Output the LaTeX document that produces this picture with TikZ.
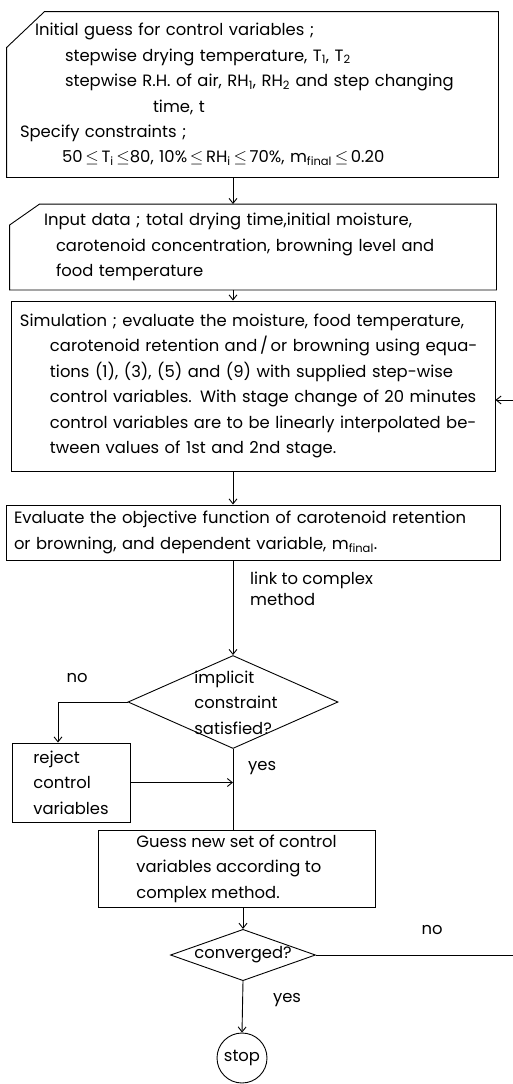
\documentclass[tikz,border=0pt]{standalone}
\usepackage{fontspec}
\setmainfont{Poppins}
\usetikzlibrary{arrows.meta,positioning,calc,shapes.geometric}
\tikzset{
  blk/.style={draw,rectangle,line width=0.9pt,align=left,inner ysep=0pt},
  inblk/.style={blk,draw=none},
  decide/.style={diamond,draw,line width=0.9pt,inner sep=0pt},
  stopnode/.style={circle,draw,line width=0.9pt,minimum size=50pt,inner sep=0pt},
  arr/.style={-{Straight Barb[length=5pt,width=8pt]},line width=0.9pt},
  ln/.style={line width=0.9pt},
  lbl/.style={align=left,inner sep=0pt}
}

\begin{document}
\begin{tikzpicture}[x=1pt,y=-1pt,font=\fontsize{16.4}{25.4}\selectfont]
  \useasboundingbox (0,0) rectangle (513,1084);
  \coordinate (axis) at (233,0);

  \node[inblk, minimum width=491pt, minimum height=165pt, text width=465pt, inner xsep=13pt] (init) at (252.5,94.5)
    {\hspace*{15pt}Initial guess for control variables ;\\
     \hspace*{45pt}stepwise drying temperature, T\textsubscript{1}, T\textsubscript{2}\\
     \hspace*{45pt}stepwise R.H. of air, RH\textsubscript{1}, RH\textsubscript{2} and step changing\\
     \hspace*{133pt}time, t\\
     Specify constraints ;\\
     \hspace*{42pt}50\,$\le$\,T\textsubscript{i}\,$\le$80, 10\%\,$\le$\,RH\textsubscript{i}\,$\le$\,70\%, m\textsubscript{final}\,$\le$\,0.20};
  \draw[ln] ([xshift=38pt]init.north west) -- (init.north east) -- (init.south east) -- (init.south west) -- ([yshift=-36pt]init.north west) -- cycle;

  \node[inblk, minimum width=486pt, minimum height=85pt, text width=460pt, inner xsep=13pt] (input) at (253,247)
    {\hspace*{21pt}Input data ; total drying time,initial moisture,\\
     \hspace*{33pt}carotenoid concentration, browning level and\\
     \hspace*{33pt}food temperature};
  \draw[ln] ([xshift=30pt]input.north west) -- (input.north east) -- (input.south east) -- (input.south west) -- ([yshift=-21pt]input.north west) -- cycle;

  \node[blk, minimum width=484pt, minimum height=170pt, text width=474pt, inner xsep=5pt] (sim) at (253,386)
    {\hspace*{4pt}Simulation ; evaluate the moisture, food temperature,\\
     \hspace*{34pt}carotenoid retention and\,/\,or browning using equa-\\
     \hspace*{34pt}tions (1), (3), (5) and (9) with supplied step-wise\\
     \hspace*{34pt}control variables. With stage change of 20 minutes\\
     \hspace*{34pt}control variables are to be linearly interpolated be-\\
     \hspace*{34pt}tween values of 1st and 2nd stage.};

  \node[blk, minimum width=494pt, minimum height=55pt, text width=478pt, inner xsep=8pt] (objfn) at (253,532.5)
    {Evaluate the objective function of carotenoid retention\\
     or browning, and dependent variable, m\textsubscript{final}.};

  \node[lbl, anchor=north west, font=\fontsize{16.4}{21}\selectfont] (link) at (250,572) {link to complex\\method};

  \node[decide, minimum width=210pt, minimum height=93pt] (dec1) at (233,702) {};
  \node[lbl] (dec1txt) at (236,702.5) {implicit\\constraint\\satisfied?};
  \node[lbl] (no1) at (77,678) {no};
  \node[lbl, anchor=west] (yes1) at (248,768) {yes};

  \node[blk, minimum width=118pt, minimum height=79pt] (rej) at (71,782.5) {reject\\control\\variables};
  \node[blk, minimum width=277pt, minimum height=77pt] (guess) at (236.5,868.5)
    {Guess new set of control\\variables according to\\complex method.};

  \node[decide, minimum width=145pt, minimum height=51pt, aspect=2.8] (conv) at (243,955) {converged?};
  \node[lbl] (no2) at (432,930) {no};
  \node[lbl] (yes2) at (287,1000) {yes};
  \node[stopnode] (stop) at (242,1058) {stop};

  \coordinate (loopR) at (513,955);
  \coordinate (loopT) at (513,400);

  \draw[arr] (init.south -| axis) -- (input.north -| axis);
  \draw[arr] (input.south -| axis) -- (sim.north -| axis);
  \draw[arr] (sim.south -| axis) -- (objfn.north -| axis);
  \draw[arr] (objfn.south -| dec1.north) -- (dec1.north);
  \draw[arr] (dec1.west) -| ([xshift=-13pt]rej.north);
  \draw[arr] (rej.east) -- (rej.east -| dec1.south);
  \draw[ln] (dec1.south) -- (dec1.south |- guess.north);
  \draw[arr] (guess.south -| conv.north) -- (conv.north);
  \draw[arr] (conv.south) -- (stop.north);
  \draw[ln] (conv.east) -- (loopR);
  \draw[arr] (loopT) -- (loopT -| sim.east);
\end{tikzpicture}
\end{document}
